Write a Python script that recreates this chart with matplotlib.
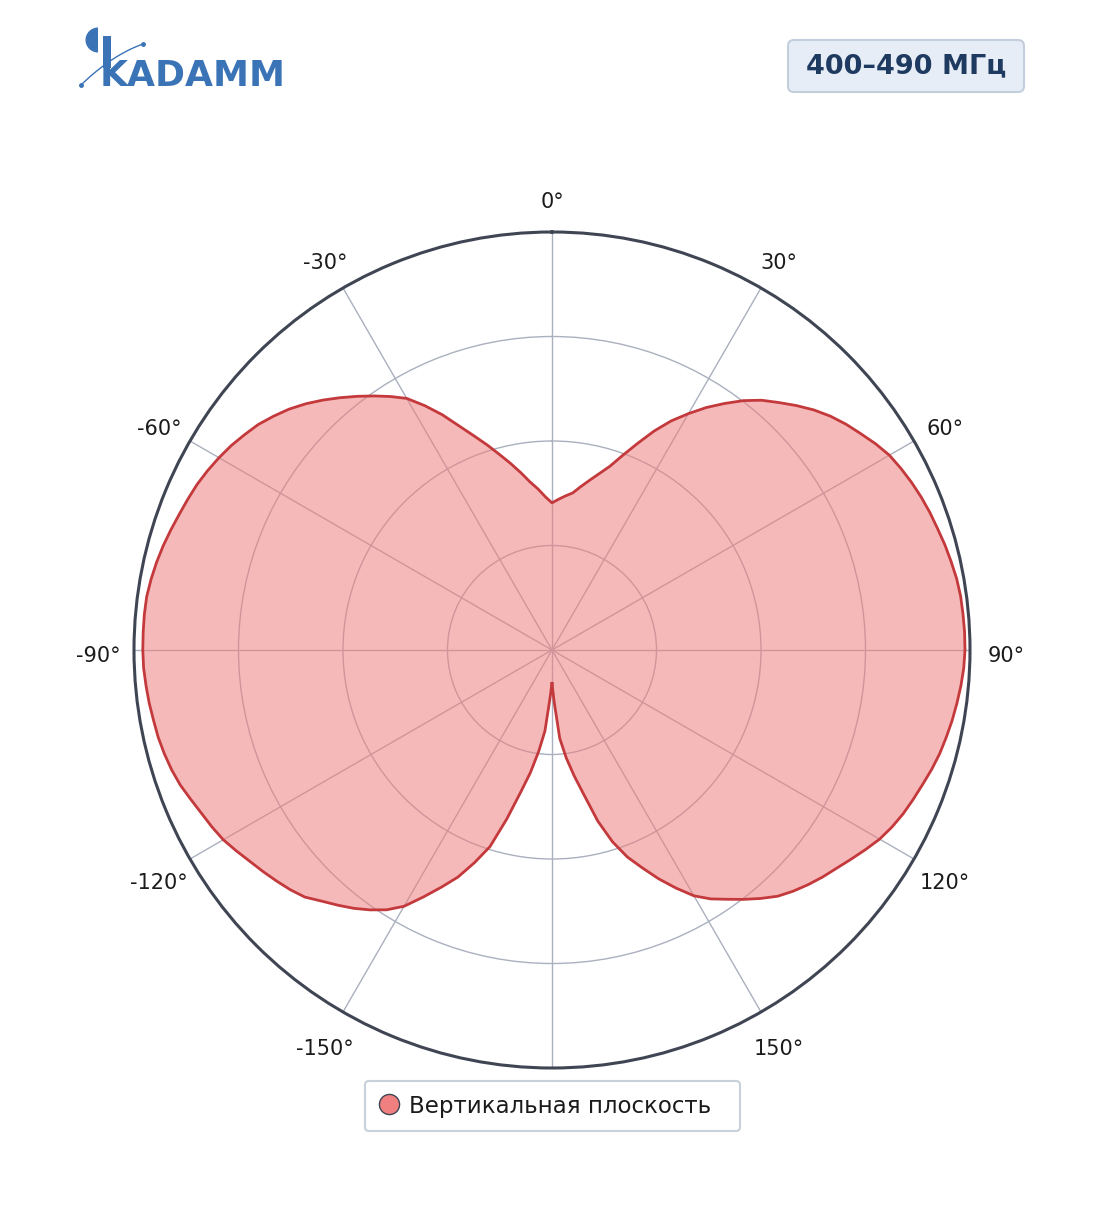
import numpy as np
import matplotlib
matplotlib.use("Agg")
import matplotlib.pyplot as plt
from matplotlib.lines import Line2D
from matplotlib.patches import Wedge, FancyBboxPatch, Rectangle
from matplotlib.transforms import ScaledTranslation

# ---- data (angle in degrees, relative gain 0..1) ----
angles_deg = list(np.arange(-180, 180.1, 2.5))
gain = [
    # -180 .. -92.5
    0.080, 0.118, 0.195, 0.245, 0.298, 0.350, 0.419, 0.493, 0.541, 0.588, 0.626, 0.666,
    0.708, 0.737, 0.759, 0.779, 0.797, 0.815, 0.836, 0.849, 0.860, 0.871, 0.882, 0.895,
    0.908, 0.917, 0.925, 0.935, 0.946, 0.954, 0.960, 0.965, 0.968, 0.972, 0.975, 0.978,
    # -90 .. -2.5
    0.979, 0.979, 0.979, 0.978, 0.974, 0.969, 0.963, 0.956, 0.949, 0.943, 0.937, 0.929,
    0.920, 0.910, 0.898, 0.886, 0.870, 0.853, 0.833, 0.811, 0.788, 0.765, 0.742, 0.719,
    0.695, 0.659, 0.621, 0.580, 0.545, 0.514, 0.484, 0.457, 0.431, 0.406, 0.387, 0.367,
    # 0 .. 87.5
    0.352, 0.361, 0.370, 0.379, 0.397, 0.416, 0.437, 0.461, 0.496, 0.535, 0.578, 0.618,
    0.653, 0.688, 0.720, 0.752, 0.780, 0.803, 0.827, 0.850, 0.870, 0.887, 0.902, 0.918,
    0.932, 0.941, 0.949, 0.956, 0.962, 0.967, 0.973, 0.978, 0.983, 0.986, 0.987, 0.988,
    # 90 .. 177.5
    0.988, 0.986, 0.982, 0.977, 0.972, 0.966, 0.960, 0.952, 0.943, 0.935, 0.927, 0.917,
    0.905, 0.889, 0.873, 0.858, 0.845, 0.831, 0.816, 0.799, 0.776, 0.752, 0.728, 0.706,
    0.679, 0.642, 0.604, 0.564, 0.527, 0.481, 0.424, 0.356, 0.306, 0.260, 0.212, 0.127,
    # 180
    0.080,
]
tick_angles = [0, 30, 60, 90, 120, 150, 180, 210, 240, 270, 300, 330]
tick_labels = ["0°", "30°", "60°", "90°", "120°", "150°", "", "-150°", "-120°", "-90°", "-60°", "-30°"]
r_ticks = [0.25, 0.5, 0.75, 1.0]
series_name = "Вертикальная плоскость"
band_label = "400–490 МГц"
brand = "KADAMM"

W, H = 1104, 1211
fig = plt.figure(figsize=(W / 100, H / 100), dpi=100)

cx, cy, R = 552, 650, 418
ax = fig.add_axes([(cx - R) / W, (H - cy - R) / H, 2 * R / W, 2 * R / H], projection="polar")
ax.set_theta_zero_location("N")
ax.set_theta_direction(-1)
ax.set_axisbelow(True)

th = np.deg2rad(angles_deg)
fill_col = "#f08080"
ax.fill(th, gain, color=fill_col, alpha=0.55, lw=0, zorder=1)
ax.plot(th, gain, color="#c3393c", lw=2.0, zorder=2, solid_joinstyle="round")

ax.set_ylim(0, 1.0)
ax.set_yticks(r_ticks)
ax.set_yticklabels([])
ax.set_xticks(np.deg2rad(tick_angles))
ax.set_xticklabels([""] * len(tick_angles))
ax.grid(True, color="#aab0bd", lw=1.0)
ax.spines["polar"].set_color("#3f4553")
ax.spines["polar"].set_linewidth(2.2)

lab_off = ax.transData + ScaledTranslation(0, -6 / 100, fig.dpi_scale_trans)
for a, lab in zip(tick_angles, tick_labels):
    ax.text(np.deg2rad(a), 1 + 36 / R, lab, ha="center", va="center", fontsize=15,
            color="#1b1b1b", transform=lab_off, clip_on=False)

# overlay (header + legend)
ov = fig.add_axes([0, 0, 1, 1], zorder=5)
ov.set_xlim(0, W)
ov.set_ylim(H, 0)
ov.axis("off")

# legend
ov.add_patch(FancyBboxPatch((365, 1081), 375, 50, boxstyle="round,pad=0,rounding_size=4",
                            facecolor="white", edgecolor="#c8d0dc", lw=1.5, zorder=1))
handle = Line2D([], [], marker="o", ls="none", markersize=14.5, markerfacecolor=fill_col,
                markeredgecolor="#3f4553", markeredgewidth=1.0)
leg = ov.legend([handle], [series_name], loc="center left",
                bbox_to_anchor=(365, 1106), bbox_transform=ov.transData, fontsize=16.5,
                frameon=False, handletextpad=0.37, borderpad=0.55, borderaxespad=0,
                handlelength=1.0)
for t in leg.get_texts():
    t.set_color("#1b1b1b")

# badge
ov.add_patch(FancyBboxPatch((788, 40), 236, 52, boxstyle="round,pad=0,rounding_size=6",
                            facecolor="#e6edf6", edgecolor="#c3cedd", lw=1.5))
ov.text(906, 66, band_label, ha="center", va="center", fontsize=19.5, fontweight="bold",
        color="#1f3a60")

# logo
logo_col = "#3a73b6"
ov.add_patch(Wedge((98, 40), 12.5, 90, 270, facecolor=logo_col, edgecolor="none"))
ov.add_patch(Rectangle((103, 36), 7.5, 32, facecolor=logo_col, edgecolor="none"))
ov.text(100, 86, brand, ha="left", va="baseline", fontsize=26, fontweight="bold",
        color=logo_col)
t = np.linspace(0, 1, 50)
arc_x = 81 + (143 - 81) * t
arc_y = 85 - 60 * t + 19 * t ** 2
ov.plot(arc_x, arc_y, color=logo_col, lw=1.0)
ov.plot([81, 143], [85, 44], ls="none", marker="o", ms=2.5, color=logo_col)

fig.savefig("out.png", dpi=100, facecolor="white")
